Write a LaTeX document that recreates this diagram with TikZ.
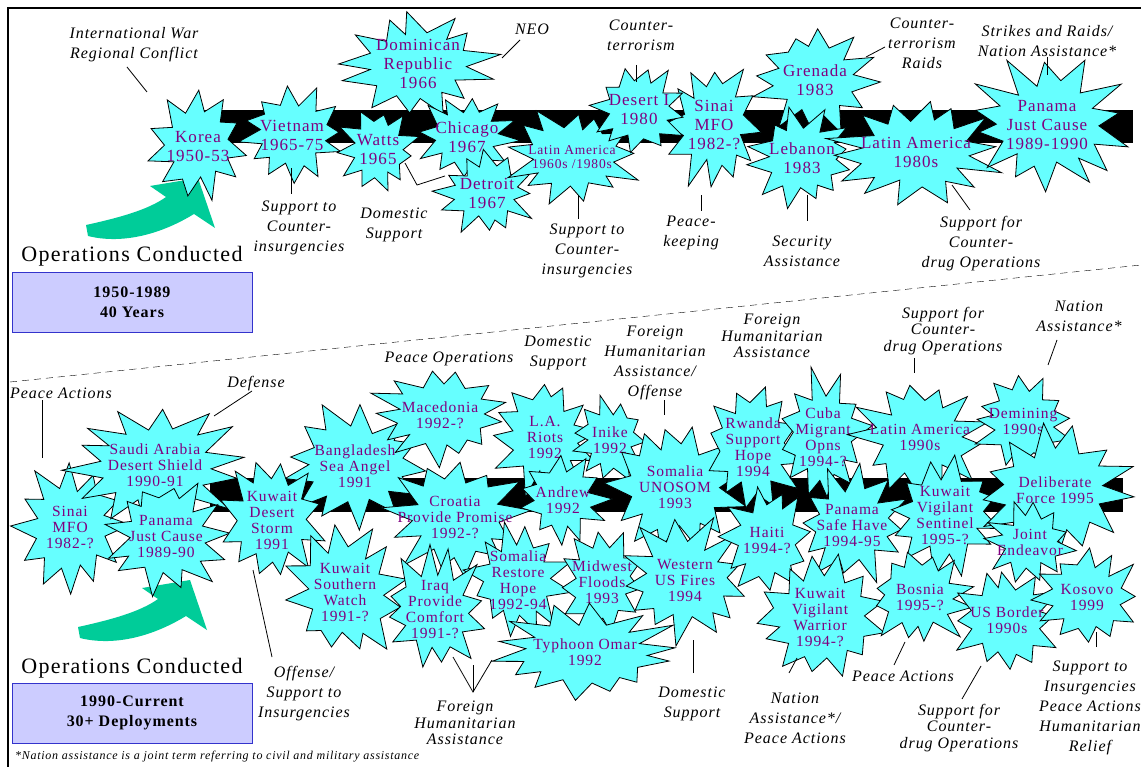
\documentclass[tikz,border=0pt]{standalone}
\usepackage{fontspec}
\setmainfont{Liberation Serif}[LetterSpace=6]
\usetikzlibrary{positioning}

\definecolor{burstcyan}{RGB}{102,255,255}
\definecolor{burstpurple}{RGB}{128,0,128}
\definecolor{turngreen}{RGB}{0,204,153}
\definecolor{eraboxfill}{RGB}{204,204,255}
\definecolor{eraboxline}{RGB}{51,51,204}

% burst: [text style] {name} {centre} {x radius} {y radius} {points} {seed} {text}
\newcommand{\burstnode}[8][]{%
  \pgfmathsetseed{#7}%
  \pgfmathsetmacro{\burstturn}{rnd*360/#6}%
  \pgfmathsetmacro{\burststep}{360/#6}%
  \pgfmathsetmacro{\burstlen}{0.75+0.25*rnd}%
  \pgfmathtruncatemacro{\burstlast}{#6-1}%
  \filldraw[burstedge, shift={#3}]
    ({0.57*#4*cos(\burstturn-\burststep/2)}, {0.57*#5*sin(\burstturn-\burststep/2)})
    \foreach \k [evaluate=\k as \tipang using \burstturn+(\k-1)*\burststep+14*(rnd-0.5),
                 evaluate=\k as \tiplen using 0.75+0.25*rnd,
                 evaluate=\k as \diplen using 0.51+0.12*rnd,
                 evaluate=\k as \dipang using \burstturn+(\k-0.5)*\burststep] in {1,...,\burstlast}
      { -- ({\tiplen*#4*cos(\tipang)}, {\tiplen*#5*sin(\tipang)}) -- ({\diplen*#4*cos(\dipang)}, {\diplen*#5*sin(\dipang)}) }
    -- ({\burstlen*#4*cos(\burstturn-\burststep)}, {\burstlen*#5*sin(\burstturn-\burststep)})
    -- cycle;
  \node[bursttext, #1] (#2) at #3 {#8};
}

\begin{document}
\begin{tikzpicture}[
    x=1pt, y=-1pt,
    burstedge/.style={fill=burstcyan, draw=black, line width=0.8pt},
    bursttext/.style={inner sep=0pt, align=center, text=burstpurple, font=\fontsize{17}{19}\selectfont},
    lowtext/.style={font=\fontsize{15.5}{16}\selectfont},
    tag/.style={align=center, inner sep=0pt, font=\fontsize{16}{20}\selectfont\itshape},
    tighttag/.style={tag, font=\fontsize{16}{16.5}\selectfont\itshape},
    leader/.style={line width=0.8pt},
    erabox/.style={draw=eraboxline, fill=eraboxfill, line width=0.8pt, minimum width=240pt, minimum height=60pt, align=center, font=\fontsize{16}{20}\selectfont\bfseries},
    heading/.style={inner sep=0pt, font=\fontsize{22}{24}\selectfont}
]
    \useasboundingbox (0,0) rectangle (1141,767);
    \fill[white] (0,0) rectangle (1141,767);

    % Divider
    \draw[dash pattern=on 7pt off 5pt] (10,382) -- (1141,265);

    % Time bars
    \fill (195,110) rectangle (1133,143);
    \fill (210,478) rectangle (1123,512);

    % Green turn arrows
    \foreach \lift/\nudge in {-402/8, 0/0}
        \fill[turngreen, shift={(\nudge,\lift)}] (78,627) .. controls (110,620) and (140,612) .. (158,599) -- (142,588) -- (190,580) -- (207,630) -- (186,616) .. controls (150,638) and (112,646) .. (80,638) -- cycle;

    % 1950-1989 operations
    \burstnode{vietnam}{(292,135)}{60}{52}{12}{7}{Vietnam\\1965-75}
    \burstnode{korea}{(198,147)}{54}{58}{11}{3}{Korea\\1950-53}
    \burstnode{watts}{(378,150)}{44}{47}{11}{5}{Watts\\1965}
    \burstnode{dominican}{(418,64)}{85}{59}{13}{11}{Dominican\\Republic\\1966}
    \burstnode{chicago}{(467,137)}{55}{47}{12}{9}{Chicago\\1967}
    \burstnode{detroit}{(487,193)}{55}{45}{12}{13}{Detroit\\1967}
    \burstnode[font=\fontsize{13.5}{14}\selectfont]{latinold}{(572,157)}{74}{55}{13}{17}{Latin America\\1960s /1980s}
    \burstnode{sinai}{(714,125)}{53}{70}{12}{23}{Sinai\\MFO\\1982-?}
    \burstnode{desertone}{(639,110)}{53}{48}{12}{19}{Desert I\\1980}
    \burstnode{grenada}{(815,80)}{68}{58}{12}{29}{Grenada\\1983}
    \burstnode{lebanon}{(802,158)}{60}{55}{12}{31}{Lebanon\\1983}
    \burstnode{latinmid}{(916,152)}{94}{58}{14}{37}{Latin America\\1980s}
    \burstnode{panama}{(1047,125)}{91}{73}{14}{41}{Panama\\Just Cause\\1989-1990}

    % 1990-current operations
    \burstnode[lowtext]{sinaib}{(70,527)}{63}{71}{12}{43}{Sinai\\MFO\\1982-?}
    \burstnode[lowtext]{saudi}{(155,465)}{99}{68}{14}{47}{Saudi Arabia\\Desert Shield\\1990-91}
    \burstnode[lowtext]{panamab}{(166,536)}{70}{64}{13}{53}{Panama\\Just Cause\\1989-90}
    \burstnode[lowtext]{bangla}{(355,466)}{86}{68}{13}{59}{Bangladesh\\Sea Angel\\1991}
    \burstnode[lowtext]{kuwaitds}{(272,520)}{60}{71}{12}{61}{Kuwait\\Desert\\Storm\\1991}
    \burstnode[lowtext]{kuwaitsw}{(345,592)}{68}{75}{12}{67}{Kuwait\\Southern\\Watch\\1991-?}
    \burstnode[lowtext]{macedonia}{(440,415)}{78}{53}{13}{71}{Macedonia\\1992-?}
    \burstnode[lowtext]{lariots}{(545,437)}{58}{65}{12}{73}{L.A.\\Riots\\1992}
    \burstnode[lowtext]{inike}{(610,440)}{43}{48}{11}{79}{Inike\\1992}
    \burstnode[lowtext]{croatia}{(455,517)}{78}{65}{13}{83}{Croatia\\Provide Promise\\1992-?}
    \burstnode[lowtext]{andrew}{(563,500)}{50}{48}{11}{89}{Andrew\\1992}
    \burstnode[lowtext]{unosom}{(675,487)}{78}{75}{13}{97}{Somalia\\UNOSOM\\1993}
    \burstnode[lowtext]{rwanda}{(753,447)}{55}{75}{12}{101}{Rwanda\\Support\\Hope\\1994}
    \burstnode[lowtext]{cuba}{(823,437)}{50}{75}{12}{103}{Cuba\\Migrant\\Opns\\1994-?}
    \burstnode[lowtext]{latinnew}{(920,437)}{74}{65}{13}{107}{Latin America\\1990s}
    \burstnode[lowtext]{demining}{(1023,421)}{55}{53}{12}{109}{Demining\\1990s}
    \burstnode[lowtext]{restorehope}{(518,580)}{57}{62}{12}{127}{Somalia\\Restore\\Hope\\1992-94}
    \burstnode[lowtext]{iraq}{(435,610)}{59}{67}{12}{113}{Iraq\\Provide\\Comfort\\1991-?}
    \burstnode[lowtext]{midwest}{(602,582)}{50}{60}{11}{131}{Midwest\\Floods\\1993}
    \burstnode[lowtext]{western}{(685,580)}{74}{68}{13}{137}{Western\\US Fires\\1994}
    \burstnode[lowtext]{typhoon}{(585,652)}{110}{50}{14}{139}{Typhoon Omar\\1992}
    \burstnode[lowtext]{haiti}{(767,540)}{50}{63}{11}{149}{Haiti\\1994-?}
    \burstnode[lowtext]{safehaven}{(852,525)}{65}{63}{12}{151}{Panama\\Safe Have\\1994-95}
    \burstnode[lowtext]{sentinel}{(945,515)}{68}{63}{12}{157}{Kuwait\\Vigilant\\Sentinel\\1995-?}
    \burstnode[lowtext]{deliberate}{(1055,490)}{84}{68}{13}{167}{Deliberate\\Force 1995}
    \burstnode[lowtext]{joint}{(1030,542)}{48}{43}{11}{163}{Joint\\Endeavor}
    \burstnode[lowtext]{warrior}{(820,617)}{78}{70}{13}{173}{Kuwait\\Vigilant\\Warrior\\1994-?}
    \burstnode[lowtext]{bosnia}{(920,597)}{58}{55}{12}{179}{Bosnia\\1995-?}
    \burstnode[lowtext]{usborder}{(1007,620)}{60}{58}{12}{181}{US Border\\1990s}
    \burstnode[lowtext]{kosovo}{(1087,597)}{60}{55}{12}{191}{Kosovo\\1999}

    % Mission labels, 1950-1989
    \node[tag] (tagwar) at (134,45) {International War\\Regional Conflict};
    \node[tag] (tagneo) at (532,29) {NEO};
    \node[tag] (tagterror) at (641,35) {Counter-\\terrorism};
    \node[tag] (tagraids) at (922,43) {Counter-\\terrorism\\Raids};
    \node[tag] (tagstrikes) at (1047,41) {Strikes and Raids/\\Nation Assistance*};
    \node[tag] (taginsurg) at (299,228) {Support to\\Counter-\\insurgencies};
    \node[tag] (tagdomestic) at (394,225) {Domestic\\Support};
    \node[tag] (taginsurgb) at (587,251) {Support to\\Counter-\\insurgencies};
    \node[tag] (tagkeeping) at (691,233) {Peace-\\keeping};
    \node[tag] (tagsecurity) at (802,251) {Security\\Assistance};
    \node[tag] (tagdrug) at (981,244) {Support for\\Counter-\\drug Operations};

    % Mission labels, 1990-current
    \node[tag] (tagpeace) at (61,393) {Peace Actions};
    \node[tag] (tagdefense) at (256,384) {Defense};
    \node[tag] (tagpeaceops) at (449,359) {Peace Operations};
    \node[tag] (tagdomesticb) at (558,353) {Domestic\\Support};
    \node[tag] (tagoffense) at (655,363) {Foreign\\Humanitarian\\Assistance/\\Offense};
    \node[tighttag] (tagrelief) at (772,336) {Foreign\\Humanitarian\\Assistance};
    \node[tighttag] (tagdrugb) at (943,331) {Support for\\Counter-\\drug Operations};
    \node[tag] (tagnation) at (1079,316) {Nation\\Assistance*};
    \node[tag] (tagoffenseb) at (304,694) {Offense/\\Support to\\Insurgencies};
    \node[tighttag] (tagreliefb) at (465,723) {Foreign\\Humanitarian\\Assistance};
    \node[tag] (tagdomesticc) at (692,704) {Domestic\\Support};
    \node[tag] (tagnationb) at (795,718) {Nation\\Assistance*/\\Peace Actions};
    \node[tag] (tagpeaceb) at (903,676) {Peace Actions};
    \node[tighttag] (tagdrugc) at (959,728) {Support for\\Counter-\\drug Operations};
    \node[tag] (tagmixed) at (1090,708) {Support to\\Insurgencies\\Peace Actions\\Humanitarian\\Relief};

    % Leaders, 1950-1989
    \draw[leader] ([shift={(-7,22)}]tagwar.center) -- ([shift={(-51,-55)}]korea.center);
    \draw[leader] ([shift={(-12,11)}]tagneo.center) -- ([shift={(84,-6)}]dominican.center);
    \draw[leader] ([shift={(-5,30)}]tagterror.center) -- ([shift={(-3,-28)}]desertone.center);
    \draw[leader] ([shift={(-37,4)}]tagraids.center) -- ([shift={(51,-23)}]grenada.center);
    \draw[leader] ([shift={(0,16)}]tagstrikes.center) -- ([shift={(0,-50)}]panama.center);
    \draw[leader] ([shift={(-8,-34)}]taginsurg.center) -- ([shift={(-1,33)}]vietnam.center);
    \draw[leader] ([shift={(27,13)}]watts.center) -- ([shift={(23,-40)}]tagdomestic.center) -- ([shift={(-42,-17)}]detroit.center);
    \draw[leader] ([shift={(-9,-32)}]taginsurgb.center) -- ([shift={(6,38)}]latinold.center);
    \draw[leader] ([shift={(10,-22)}]tagkeeping.center) -- ([shift={(-13,70)}]sinai.center);
    \draw[leader] ([shift={(5,-30)}]tagsecurity.center) -- ([shift={(5,37)}]lebanon.center);
    \draw[leader] ([shift={(-11,-34)}]tagdrug.center) -- ([shift={(36,33)}]latinmid.center);

    % Leaders, 1990-current
    \draw[leader] ([shift={(-19,7)}]tagpeace.center) -- ([shift={(-28,-69)}]sinaib.center);
    \draw[leader] ([shift={(-4,7)}]tagdefense.center) -- ([shift={(59,-49)}]saudi.center);
    \draw[leader] ([shift={(9,37)}]tagoffense.center) -- ([shift={(-11,-72)}]unosom.center);
    \draw[leader] ([shift={(-29,27)}]tagdrugb.center) -- ([shift={(-6,-64)}]latinnew.center);
    \draw[leader] ([shift={(-22,24)}]tagnation.center) -- ([shift={(25,-56)}]demining.center);
    \draw[leader] ([shift={(-32,-37)}]tagoffenseb.center) -- ([shift={(-19,50)}]kuwaitds.center);
    \draw[leader] ([shift={(18,47)}]iraq.center) -- ([shift={(8,-31)}]tagreliefb.center) -- ([shift={(-26,80)}]restorehope.center);
    \draw[leader] ([shift={(8,-31)}]tagreliefb.center) -- ([shift={(-112,13)}]typhoon.center);
    \draw[leader] ([shift={(1,-31)}]tagdomesticc.center) -- ([shift={(8,60)}]western.center);
    \draw[leader] ([shift={(-6,-45)}]tagnationb.center) -- ([shift={(-23,41)}]warrior.center);
    \draw[leader] ([shift={(-9,-11)}]tagpeaceb.center) -- ([shift={(-15,45)}]bosnia.center);
    \draw[leader] ([shift={(3,-29)}]tagdrugc.center) -- ([shift={(-26,46)}]usborder.center);
    \draw[leader] ([shift={(6,-61)}]tagmixed.center) -- ([shift={(9,35)}]kosovo.center);

    % Period boxes
    \node[erabox] (pastbox) at (132,302) {1950-1989\\40 Years};
    \node[heading, above=5pt of pastbox] (pasthead) {Operations Conducted};
    \node[erabox] (nowbox) at (132,713) {1990-Current\\30+ Deployments};
    \node[heading, above=4pt of nowbox] (nowhead) {Operations Conducted};
    \node[anchor=west, inner sep=0pt, font=\fontsize{12}{14}\selectfont\itshape] (footnote) at (15,757) {*Nation assistance is a joint term referring to civil and military assistance};

    % Frame
    \draw[line width=2pt] (8,767) -- (8,8) -- (1141,8);
\end{tikzpicture}
\end{document}
